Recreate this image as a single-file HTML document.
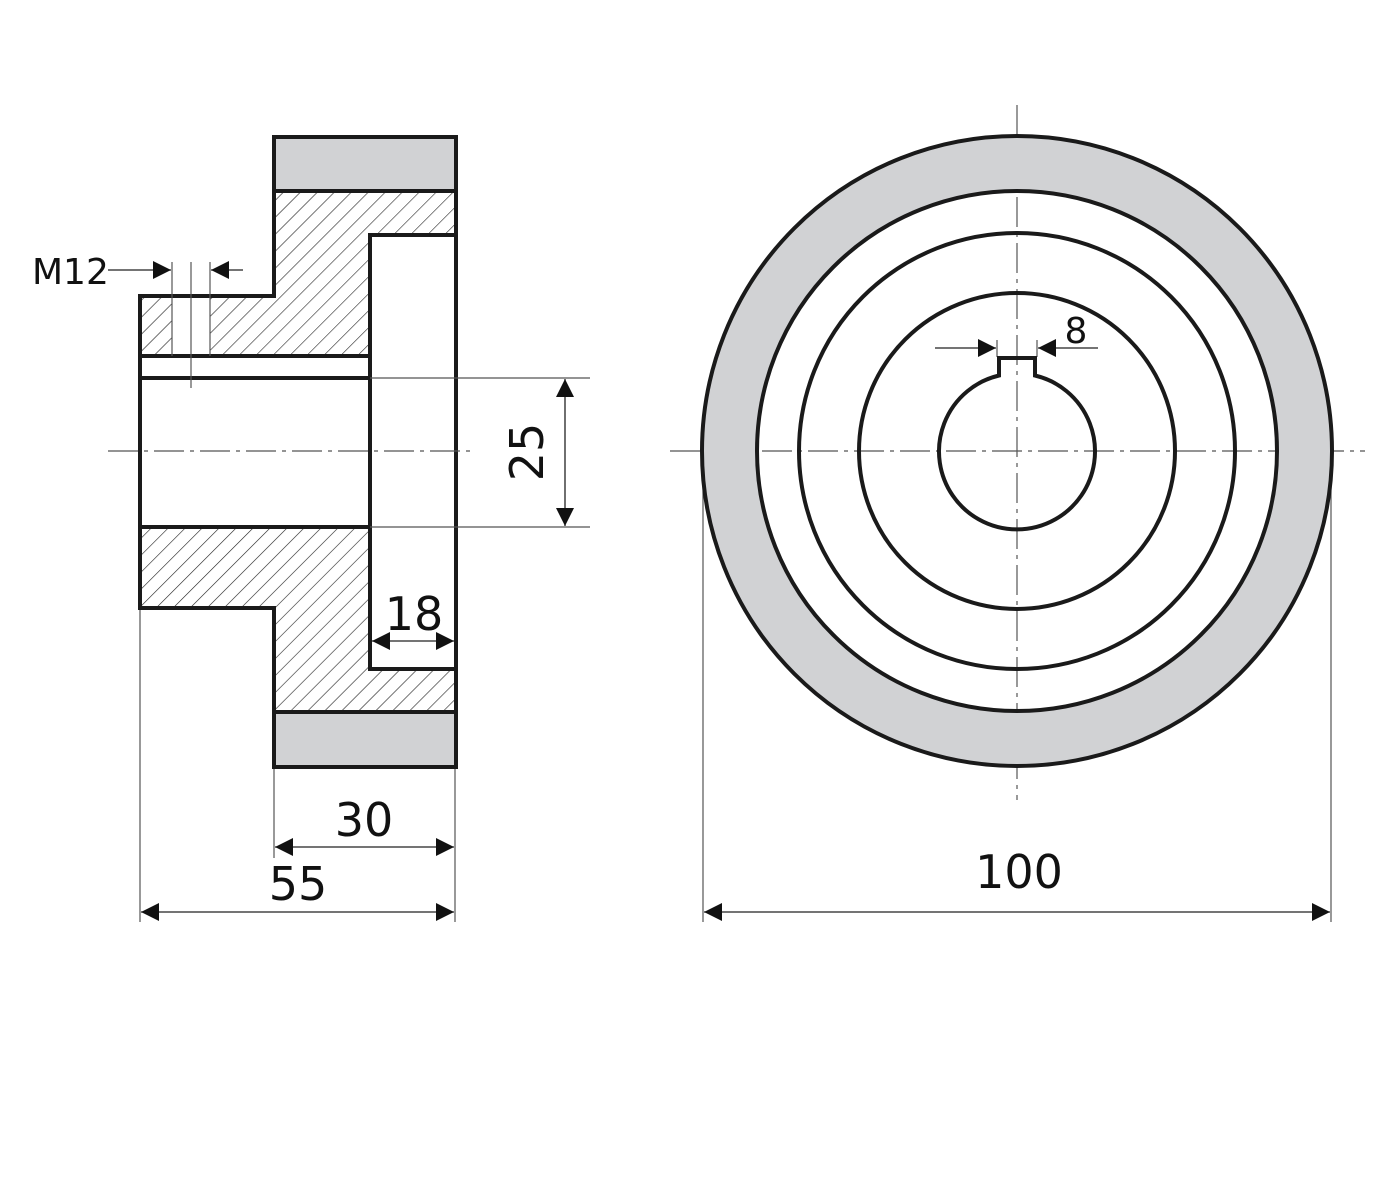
<!DOCTYPE html>
<html><head><meta charset="utf-8"><style>body{margin:0;background:#fff}svg{display:block}</style></head>
<body>
<svg width="1399" height="1200" viewBox="0 0 1399 1200" xmlns="http://www.w3.org/2000/svg" font-family="DejaVu Sans, Liberation Sans, sans-serif">
<defs>
<pattern id="h" width="12" height="12" patternUnits="userSpaceOnUse" patternTransform="rotate(45)">
<line x1="0" y1="0" x2="0" y2="12" stroke="#222" stroke-width="1.2"/>
</pattern>
<marker id="a" viewBox="0 0 10 10" refX="10" refY="5" markerWidth="18" markerHeight="18" markerUnits="userSpaceOnUse" orient="auto-start-reverse"><path d="M0,0L10,5L0,10z" fill="#111"/></marker>
</defs>
<!-- left view -->
<rect x="274" y="137" width="182" height="54" fill="#d1d2d4"/>
<rect x="274" y="712" width="182" height="55" fill="#d1d2d4"/>
<path d="M140,296H274V191H456V235H370V356H140Z" fill="url(#h)"/>
<rect x="172" y="297" width="38" height="58" fill="#fff"/>
<path d="M140,527H370V669H456V712H274V608H140Z" fill="url(#h)"/>
<g fill="none" stroke="#1a1a1a" stroke-width="4">
<path d="M274,137H456V767H274V608H140V296H274Z"/>
<line x1="274" y1="191" x2="456" y2="191"/>
<line x1="274" y1="712" x2="456" y2="712"/>
<path d="M456,235H370V669H456"/>
<line x1="140" y1="356" x2="370" y2="356"/>
<line x1="140" y1="378" x2="370" y2="378"/>
<line x1="140" y1="527" x2="370" y2="527"/>
</g>
<g stroke="#555" stroke-width="1.2" fill="none">
<line x1="172" y1="262" x2="172" y2="356"/>
<line x1="210" y1="262" x2="210" y2="356"/>
<line x1="191" y1="262" x2="191" y2="388"/>
<line x1="370" y1="378" x2="590" y2="378"/>
<line x1="370" y1="527" x2="590" y2="527"/>
<line x1="140" y1="610" x2="140" y2="922"/>
<line x1="274" y1="769" x2="274" y2="858"/>
<line x1="455" y1="769" x2="455" y2="922"/>
<line x1="703" y1="460" x2="703" y2="922"/>
<line x1="1331" y1="460" x2="1331" y2="922"/>
<line x1="997" y1="340" x2="997" y2="357"/>
<line x1="1037" y1="340" x2="1037" y2="357"/>
</g>
<g stroke="#555" stroke-width="1.2" stroke-dasharray="30,6,4,6">
<line x1="108" y1="451" x2="470" y2="451"/>
<line x1="670" y1="451" x2="1365" y2="451"/>
<line x1="1017" y1="105" x2="1017" y2="800"/>
</g>
<!-- dims -->
<g stroke="#222" stroke-width="1.3">
<line x1="108" y1="270" x2="171" y2="270" marker-end="url(#a)"/>
<line x1="243" y1="270" x2="211" y2="270" marker-end="url(#a)"/>
<line x1="565" y1="379" x2="565" y2="526" marker-start="url(#a)" marker-end="url(#a)"/>
<line x1="372" y1="641" x2="454" y2="641" marker-start="url(#a)" marker-end="url(#a)"/>
<line x1="275" y1="847" x2="454" y2="847" marker-start="url(#a)" marker-end="url(#a)"/>
<line x1="141" y1="912" x2="454" y2="912" marker-start="url(#a)" marker-end="url(#a)"/>
<line x1="704" y1="912" x2="1330" y2="912" marker-start="url(#a)" marker-end="url(#a)"/>
<line x1="935" y1="348" x2="996" y2="348" marker-end="url(#a)"/>
<line x1="1098" y1="348" x2="1038" y2="348" marker-end="url(#a)"/>
</g>
<g fill="#111">
<text x="32" y="284" font-size="36">M12</text>
<text x="364" y="836" font-size="46" text-anchor="middle">30</text>
<text x="298" y="900" font-size="46" text-anchor="middle">55</text>
<text x="414" y="630" font-size="46" text-anchor="middle">18</text>
<text x="1019" y="888" font-size="46" text-anchor="middle">100</text>
<text x="1076" y="343" font-size="36" text-anchor="middle">8</text>
<text transform="translate(543,452) rotate(-90)" font-size="46" text-anchor="middle">25</text>
</g>
<!-- right view -->
<circle cx="1017" cy="451" r="288" fill="none" stroke="#d1d2d4" stroke-width="54"/>
<g fill="none" stroke="#1a1a1a" stroke-width="4">
<circle cx="1017" cy="451" r="315"/>
<circle cx="1017" cy="451" r="260"/>
<circle cx="1017" cy="451" r="218"/>
<circle cx="1017" cy="451" r="158"/>
<path d="M999,375.5V358H1035V375.5A78,78 0 1 1 999,375.5Z"/>
</g>
</svg>
</body></html>
